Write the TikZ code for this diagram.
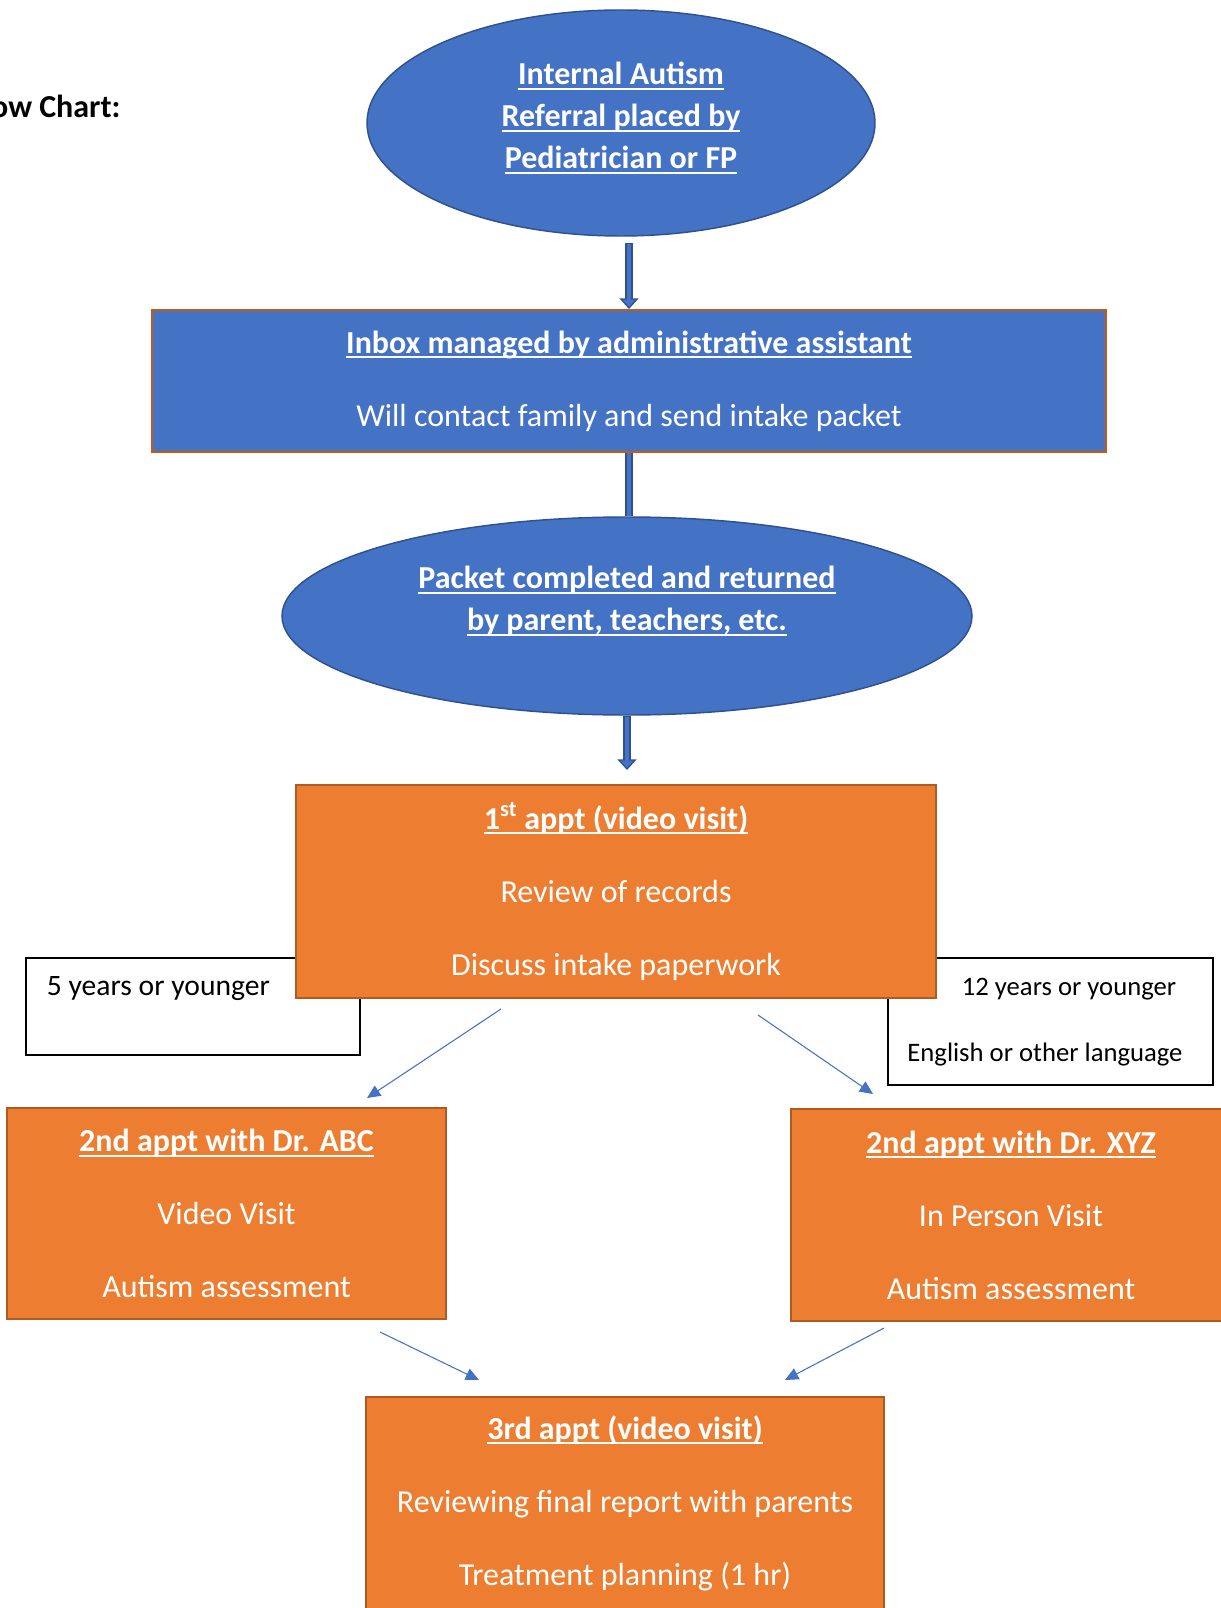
\documentclass[tikz,border=0pt]{standalone}
\usepackage{fontspec}
\setmainfont{Carlito}
\usepackage{tikz}
\usetikzlibrary{arrows.meta,calc,shapes.geometric}
\definecolor{stepblue}{HTML}{4472C4}
\definecolor{stepblueline}{HTML}{2F528F}
\definecolor{steporange}{HTML}{ED7D31}
\definecolor{steporangeline}{HTML}{AE5A21}
\definecolor{inboxline}{HTML}{C55A11}
\newsavebox{\ulbfbox}
\newcommand{\ulbf}[1]{\sbox{\ulbfbox}{\bfseries #1}\rlap{\rule[-3.8pt]{\wd\ulbfbox}{1.4pt}}\usebox{\ulbfbox}}
\tikzset{every picture/.style={line width=0.75pt}}

\begin{document}
\begin{tikzpicture}[x=0.75pt,y=0.75pt,yscale=-1,xscale=1,
  bluedisc/.style={ellipse,draw=stepblueline,fill=stepblue,line width=1.1pt,inner sep=0pt},
  disctext/.style={text=white,align=center,font=\fontsize{24}{31.5}\selectfont},
  stepbox/.style={rectangle,draw=steporangeline,fill=steporange,line width=1.5pt,text=white,align=center,
    font=\fontsize{24}{54.75}\selectfont},
  tagbox/.style={rectangle,draw=black,fill=white,line width=1.1pt},
  fatedge/.style={draw=stepblueline,line width=6pt},
  fatcore/.style={draw=stepblue,line width=3.6pt},
  thinarrow/.style={draw=stepblue,line width=0.8pt,-{Triangle[length=10pt,width=9pt]}}]
\useasboundingbox (0,0) rectangle (1220,1608);

% title, cut at the page edge
\node[anchor=east,inner sep=0pt,font=\bfseries\fontsize{24}{28}\selectfont] (charttitle) at (121,106) {ow Chart:};

% referral
\node[bluedisc,minimum width=381pt,minimum height=169.5pt] (referral) at (621,123) {};
\node[disctext] (referraltxt) at (621,118) {\ulbf{Internal Autism}\\\ulbf{Referral placed by}\\\ulbf{Pediatrician or FP}};

% inbox
\node[stepbox,draw=inboxline,fill=stepblue,minimum width=715.5pt,minimum height=106.5pt] (inbox) at (629,381)
  {\ulbf{Inbox managed by administrative assistant}\\Will contact family and send intake packet};

% packet
\node[bluedisc,minimum width=517.5pt,minimum height=148.5pt] (packet) at (627,616) {};
\node[disctext] (packettxt) at (627,601) {\ulbf{Packet completed and returned}\\\ulbf{by parent, teachers, etc.}};

% age tags behind the first appt
\node[tagbox,minimum width=250.5pt,minimum height=72.75pt] (youngtag) at (193,1006.5) {};
\node[anchor=west,font=\fontsize{22.2}{26}\selectfont] (youngtxt) at (42,989) {5 years or younger};
\node[tagbox,minimum width=243.75pt,minimum height=95.25pt] (langtag) at (1050.5,1021.5) {};
\node[font=\fontsize{20}{24}\selectfont] (agetxt) at (1069,989) {12 years or younger};
\node[font=\fontsize{20}{24}\selectfont] (langtxt) at (1045,1055) {English or other language};

% appointments
\node[stepbox,minimum width=480pt,minimum height=159.75pt] (first) at (616,891.5)
  {\ulbf{1\textsuperscript{st} appt (video visit)}\\Review of records\\Discuss intake paperwork};
\node[stepbox,minimum width=329.25pt,minimum height=158.25pt] (abc) at (226.5,1213.5)
  {\ulbf{2nd appt with Dr. ABC}\\Video Visit\\Autism assessment};
\node[stepbox,minimum width=330pt,minimum height=159pt] (xyz) at (1011,1215)
  {\ulbf{2nd appt with Dr. XYZ}\\In Person Visit\\Autism assessment};
\node[stepbox,minimum width=388.5pt,minimum height=159pt] (third) at (625,1503)
  {\ulbf{3rd appt (video visit)}\\Reviewing final report with parents\\Treatment planning (1 hr)};

% thick connectors
\draw[fatedge,-{Triangle[length=8pt,width=14pt]},shorten <=4.5pt] (inbox.north |- referral.south) -- (inbox.north);
\draw[fatcore,-{Triangle[length=5.5pt,width=9.5pt]},shorten <=5.3pt,shorten >=1.6pt] (inbox.north |- referral.south) -- (inbox.north);
\draw[fatedge] (inbox.south) -- (inbox.south |- packet.north);
\draw[fatcore] (inbox.south) -- (inbox.south |- packet.north);
\draw[fatedge,-{Triangle[length=8pt,width=14pt]},shorten >=10.5pt] (packet.south) -- (packet.south |- first.north);
\draw[fatcore,-{Triangle[length=5.5pt,width=9.5pt]},shorten <=0.8pt,shorten >=12.1pt] (packet.south) -- (packet.south |- first.north);

% thin connectors
\draw[thinarrow] ($(first.south)+(-115,10)$) -- ($(abc.north)+(140.5,-9)$);
\draw[thinarrow] ($(first.south)+(142,16)$) -- ($(xyz.north)+(-138,-14)$);
\draw[thinarrow] ($(abc.south)+(153.5,12)$) -- ($(third.north)+(-146,-16)$);
\draw[thinarrow] ($(xyz.south)+(-127,6)$) -- ($(third.north)+(160,-16)$);
\end{tikzpicture}
\end{document}
